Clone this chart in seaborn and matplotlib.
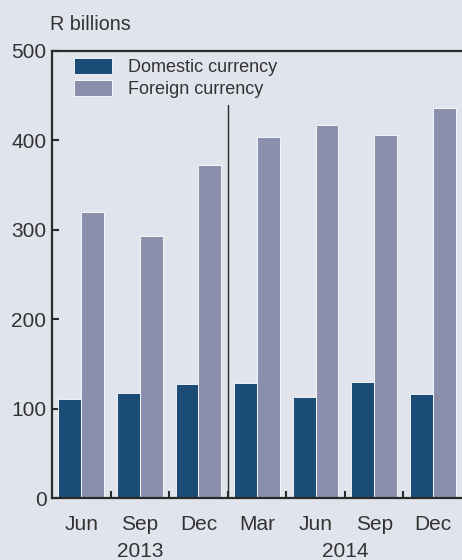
import matplotlib.pyplot as plt
import pandas as pd
import seaborn as sns

# values (R billions)
periods = ['Jun 2013', 'Sep 2013', 'Dec 2013', 'Mar 2014', 'Jun 2014', 'Sep 2014', 'Dec 2014']
months = ['Jun', 'Sep', 'Dec', 'Mar', 'Jun', 'Sep', 'Dec']
domestic = [111, 117, 127, 129, 113, 130, 116]
foreign = [320, 293, 372, 404, 417, 406, 436]
series = ['Domestic currency', 'Foreign currency']
years = ['2013', '2014']

bg = '#E1E4EC'
colors = ['#1A4C75', '#8A8FAB']
ink = '#2a2a2a'
txt = '#333333'

df = pd.DataFrame({
    'period': periods * 2,
    'series': [series[0]] * len(periods) + [series[1]] * len(periods),
    'value': domestic + foreign,
})

sns.set_theme(style='white')
plt.rcParams['font.family'] = ['Liberation Sans', 'DejaVu Sans']

fig = plt.figure(figsize=(4.62, 5.6), dpi=100, facecolor=bg)
ax = fig.add_axes([52 / 462, 62 / 560, 410 / 462, 447 / 560])
ax.set_facecolor(bg)

sns.barplot(data=df, x='period', y='value', hue='series', order=periods,
            hue_order=series, palette=colors, width=0.78, saturation=1,
            edgecolor='white', linewidth=0.6, ax=ax)

ax.set_xlim(-0.5, 6.5)
ax.set_ylim(0, 500)
ax.set_yticks([0, 100, 200, 300, 400, 500])
ax.set_xlabel('')
ax.set_ylabel('')

# month labels + ticks between categories
ax.set_xticks(range(len(periods)))
ax.set_xticklabels(months)
ax.set_xticks([i + 0.5 for i in range(len(periods) - 1)], minor=True)
ax.tick_params(axis='x', which='major', length=0, pad=12, labelsize=15, colors=txt)
ax.tick_params(axis='x', which='minor', direction='in', length=5, width=1.5, color=ink, bottom=True)
ax.tick_params(axis='y', direction='in', length=5, width=1.5, color=ink, left=True,
               labelsize=15, labelcolor=txt, pad=4)

for side in ['left', 'bottom', 'top']:
    ax.spines[side].set_visible(True)
    ax.spines[side].set_color(ink)
    ax.spines[side].set_linewidth(1.6)
ax.spines['right'].set_visible(False)

# year separator
ax.axvline(2.5, ymin=0, ymax=440 / 500, color=ink, linewidth=1)

# year labels
ax.text(1, -0.12, years[0], transform=ax.get_xaxis_transform(), ha='center', va='center',
        fontsize=15, color=txt)
ax.text(4.5, -0.12, years[1], transform=ax.get_xaxis_transform(), ha='center', va='center',
        fontsize=15, color=txt)

fig.text(50 / 462, 1 - 25 / 560, 'R billions', ha='left', va='center', fontsize=14.2, color=txt)

leg = ax.legend(loc='upper left', bbox_to_anchor=(0.054, 0.985), frameon=False, fontsize=13,
                handlelength=2.1, handleheight=1.0, handletextpad=0.9, labelspacing=0.22,
                borderpad=0, borderaxespad=0)
for t in leg.get_texts():
    t.set_color(txt)

fig.savefig('out.png', dpi=100, facecolor=bg)
